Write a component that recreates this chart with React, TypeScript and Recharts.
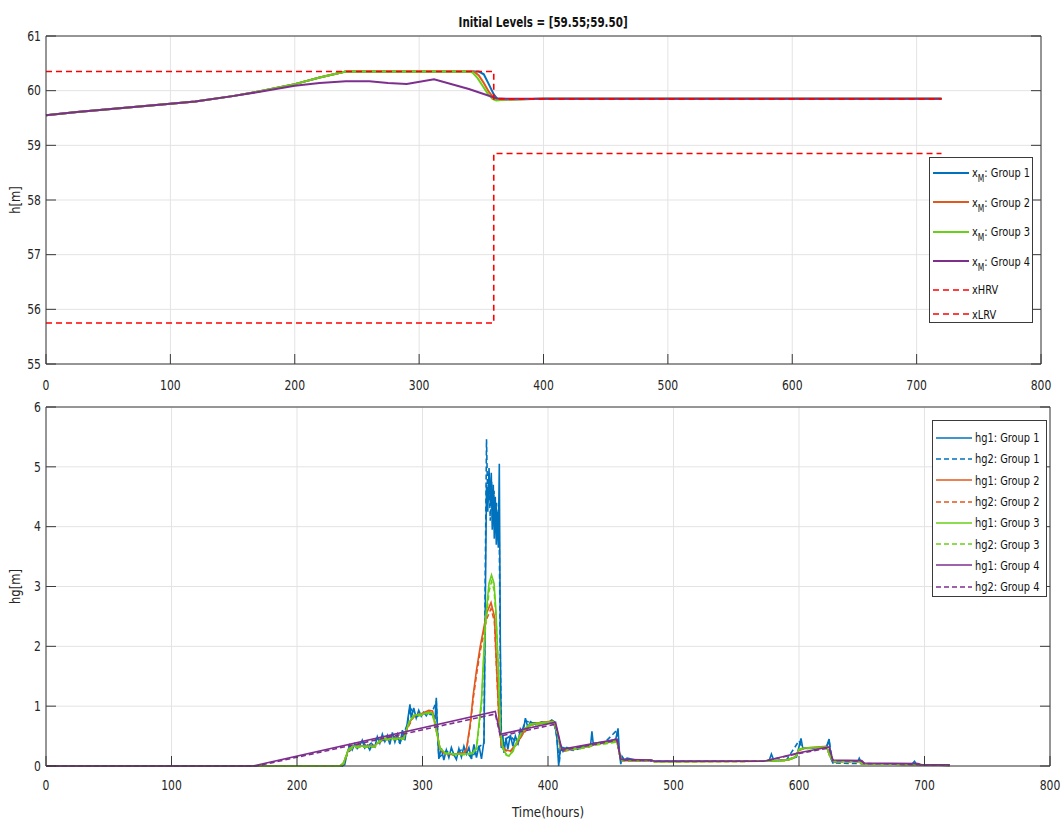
import { LineChart, Line, XAxis, YAxis, CartesianGrid, Legend } from "recharts"

type Pt = [number, number]

const FONT = "'Liberation Sans Narrow', 'Arial Narrow', 'DejaVu Sans Condensed', 'Liberation Sans', sans-serif"
const INK = "#262626"
const AXIS = "#3a3a3a"
const GRID = "#e3e3e3"
const TICK = 10
const NARROW = 0.86

const BLUE = "#0072BD"
const ORANGE = "#E2571C"
const GREEN = "#69CF17"
const PURPLE = "#7E2F8E"
const RED = "#FF0000"

// shared axis ticks
const timeTicks = [0, 100, 200, 300, 400, 500, 600, 700, 800]
const levelTicks = [55, 56, 57, 58, 59, 60, 61]
const gateTicks = [0, 1, 2, 3, 4, 5, 6]

// reservoir level h[m] per group, [hour, value]
const group1Level: Pt[] = [
  [0, 59.55], [25, 59.61], [50, 59.66], [75, 59.71], [100, 59.76], [120, 59.8], [150, 59.9], [172, 59.99],
  [200, 60.12], [220, 60.24], [241, 60.35], [340, 60.35], [348, 60.35], [352, 60.3], [356, 60.12],
  [360, 59.93], [363, 59.85], [370, 59.84], [400, 59.85], [720, 59.85],
]
const group2Level: Pt[] = [
  [0, 59.55], [25, 59.61], [50, 59.66], [75, 59.71], [100, 59.76], [120, 59.8], [150, 59.9], [172, 59.99],
  [200, 60.12], [220, 60.24], [241, 60.35], [340, 60.35], [344, 60.35], [348, 60.28], [352, 60.14],
  [356, 59.98], [360, 59.87], [363, 59.84], [370, 59.84], [400, 59.85], [720, 59.85],
]
const group3Level: Pt[] = [
  [0, 59.55], [25, 59.61], [50, 59.66], [75, 59.71], [100, 59.76], [120, 59.8], [150, 59.9], [172, 59.99],
  [200, 60.12], [220, 60.24], [241, 60.35], [340, 60.35], [343, 60.33], [347, 60.23], [351, 60.09],
  [355, 59.95], [359, 59.85], [362, 59.82], [370, 59.84], [400, 59.85], [720, 59.85],
]
const group4Level: Pt[] = [
  [0, 59.55], [25, 59.61], [50, 59.66], [75, 59.71], [100, 59.76], [120, 59.8], [150, 59.9], [172, 59.98],
  [200, 60.09], [220, 60.14], [241, 60.17], [260, 60.17], [275, 60.14], [290, 60.12], [312, 60.21],
  [340, 60.03], [362, 59.86], [370, 59.85], [400, 59.85], [720, 59.85],
]
const hrvLimit: Pt[] = [[0, 60.35], [360, 60.35], [360, 59.85], [720, 59.85]]
const lrvLimit: Pt[] = [[0, 55.75], [360, 55.75], [360, 58.85], [720, 58.85]]

// gate openings hg[m] per group, [hour, value]
const group1Hg1: Pt[] = [
  [0, 0], [236, 0], [238, 0.02], [240, 0.22], [242, 0.35], [244, 0.27], [246, 0.37], [248, 0.29], [250, 0.34],
  [252, 0.43], [254, 0.3], [256, 0.35], [258, 0.27], [260, 0.36], [262, 0.32], [264, 0.49], [266, 0.38],
  [268, 0.53], [270, 0.41], [272, 0.51], [274, 0.36], [276, 0.56], [278, 0.4], [280, 0.53], [282, 0.37],
  [284, 0.6], [286, 0.43], [288, 0.74], [290, 1.03], [291, 0.8], [293, 0.97], [295, 0.8], [297, 0.93],
  [299, 0.83], [301, 0.9], [303, 0.84], [305, 0.91], [307, 0.87], [309, 0.84], [310, 0.78], [311, 1.14],
  [312, 0.55], [313, 0.12], [315, 0.3], [317, 0.1], [319, 0.27], [321, 0.14], [323, 0.31], [325, 0.19],
  [327, 0.11], [329, 0.29], [331, 0.15], [333, 0.33], [335, 0.2], [337, 0.31], [339, 0.12], [341, 0.36],
  [343, 0.14], [345, 0.34], [347, 0.12], [349, 0.42], [350, 2.6], [351, 4.7], [352, 4.25], [353, 4.98],
  [354, 4.35], [354.8, 4.9], [355.6, 3.95], [356.4, 4.7], [357.2, 3.8], [358, 4.5], [358.8, 3.7],
  [359.6, 4.25], [360.4, 3.65], [361.2, 5.05], [362, 2.1], [362.8, 0.3], [364, 0.52], [365, 0.22],
  [366.5, 0.47], [368, 0.28], [370, 0.52], [372, 0.33], [374, 0.5], [376, 0.38], [378, 0.62], [380, 0.55],
  [382, 0.8], [384, 0.64], [386, 0.74], [390, 0.69], [395, 0.74], [400, 0.72], [403, 0.77], [405, 0.74],
  [407, 0.5], [408.5, 0], [410, 0.34], [412, 0.24], [415, 0.31], [420, 0.27], [425, 0.32], [430, 0.33],
  [434, 0.36], [435, 0.58], [436, 0.38], [445, 0.4], [450, 0.42], [454, 0.45], [455.8, 0.63], [457, 0.2],
  [458, 0.03], [459, 0.16], [461, 0.1], [463, 0.13], [470, 0.1], [482, 0.1], [485, 0.08], [560, 0.08],
  [576, 0.08], [578, 0.2], [580, 0.09], [590, 0.1], [598, 0.15], [601.6, 0.46], [603, 0.3], [620, 0.31],
  [622, 0.33], [624, 0.45], [625.5, 0.12], [627, 0.05], [630, 0.08], [647, 0.08], [648, 0.13], [650, 0.04],
  [690, 0.03], [692, 0.08], [694, 0.02], [720, 0.01],
]
const group1Hg2: Pt[] = [
  [0, 0], [236, 0], [240, 0.2], [244, 0.3], [252, 0.4], [256, 0.33], [264, 0.46], [270, 0.42], [276, 0.53],
  [282, 0.38], [288, 0.7], [290, 0.98], [295, 0.82], [301, 0.88], [307, 0.86], [311, 1.08], [313, 0.14],
  [319, 0.25], [325, 0.18], [333, 0.3], [339, 0.13], [345, 0.32], [349, 0.38], [350, 3.2], [351, 5.46],
  [352, 4.4], [353, 4.8], [354, 4.1], [355, 4.75], [356, 4.0], [357, 4.6], [358, 3.9], [359, 4.4],
  [360, 3.8], [361, 4.2], [362, 1.8], [363, 0.3], [366, 0.45], [370, 0.5], [376, 0.37], [382, 0.76],
  [386, 0.72], [395, 0.72], [405, 0.72], [407, 0.48], [409, 0.05], [410, 0.32], [420, 0.26], [434, 0.35],
  [445, 0.39], [455, 0.6], [457, 0.18], [459, 0.12], [470, 0.09], [485, 0.08], [576, 0.08], [590, 0.1],
  [600, 0.42], [603, 0.29], [622, 0.32], [624, 0.42], [627, 0.05], [650, 0.04], [720, 0.01],
]
const group2Hg1: Pt[] = [
  [0, 0], [234, 0], [237, 0.04], [241, 0.27], [245, 0.33], [262, 0.34], [266, 0.42], [270, 0.46], [285, 0.47],
  [289, 0.7], [293, 0.84], [300, 0.88], [305, 0.93], [308, 0.92], [311, 0.62], [314, 0.28], [318, 0.21],
  [325, 0.2], [333, 0.22], [335, 0.28], [338, 0.7], [340.5, 1.2], [343, 1.6], [346, 2.0], [351, 2.55],
  [354.6, 2.73], [357.3, 2.5], [359, 1.67], [361.2, 0.67], [363, 0.35], [366, 0.27], [370, 0.25],
  [374, 0.35], [380, 0.55], [386, 0.7], [395, 0.73], [404, 0.75], [407, 0.62], [410, 0.3], [413, 0.26],
  [425, 0.3], [433, 0.33], [436, 0.36], [445, 0.39], [455, 0.43], [457, 0.2], [459, 0.09], [470, 0.09],
  [482, 0.1], [485, 0.07], [575, 0.08], [590, 0.1], [597, 0.15], [600, 0.27], [604, 0.3], [622, 0.33],
  [625, 0.15], [628, 0.07], [648, 0.08], [650, 0.04], [700, 0.02], [720, 0.01],
]
const group2Hg2: Pt[] = [
  [0, 0], [234, 0], [237, 0.03], [241, 0.25], [245, 0.31], [262, 0.32], [266, 0.4], [270, 0.44], [285, 0.45],
  [289, 0.67], [293, 0.82], [300, 0.86], [305, 0.91], [308, 0.9], [311, 0.6], [314, 0.27], [318, 0.2],
  [325, 0.19], [333, 0.21], [335, 0.26], [338, 0.66], [340.5, 1.14], [343, 1.52], [346, 1.92], [351, 2.45],
  [354.6, 2.63], [357.3, 2.42], [359, 1.62], [361.2, 0.64], [363, 0.33], [366, 0.26], [370, 0.24],
  [374, 0.33], [380, 0.53], [386, 0.68], [395, 0.71], [404, 0.73], [407, 0.6], [410, 0.29], [413, 0.25],
  [425, 0.29], [433, 0.32], [436, 0.35], [445, 0.38], [455, 0.41], [457, 0.19], [459, 0.09], [470, 0.08],
  [482, 0.09], [485, 0.07], [575, 0.08], [590, 0.09], [597, 0.14], [600, 0.26], [604, 0.29], [622, 0.31],
  [625, 0.14], [628, 0.07], [648, 0.07], [650, 0.04], [700, 0.02], [720, 0.01],
]
const group3Hg1: Pt[] = [
  [0, 0], [234, 0], [237, 0.05], [241, 0.28], [245, 0.33], [262, 0.33], [266, 0.43], [270, 0.46], [285, 0.46],
  [289, 0.72], [293, 0.85], [300, 0.87], [305, 0.9], [308, 0.88], [311, 0.6], [314, 0.3], [318, 0.22],
  [325, 0.2], [335, 0.2], [340, 0.22], [343, 0.3], [347, 1.1], [350, 2.4], [353, 3.05], [355, 3.19],
  [357, 3.05], [358.5, 2.6], [360.5, 1.6], [362, 0.6], [364, 0.3], [367, 0.18], [369, 0.17], [372, 0.25],
  [376, 0.45], [380, 0.6], [386, 0.7], [395, 0.72], [404, 0.74], [407, 0.6], [410, 0.3], [413, 0.27],
  [425, 0.3], [433, 0.33], [436, 0.36], [445, 0.38], [455, 0.42], [457, 0.2], [459, 0.1], [470, 0.09],
  [482, 0.1], [485, 0.07], [575, 0.08], [590, 0.1], [597, 0.15], [600, 0.28], [604, 0.3], [622, 0.32],
  [625, 0.15], [628, 0.07], [648, 0.08], [650, 0.04], [700, 0.02], [720, 0.01],
]
const group3Hg2: Pt[] = [
  [0, 0], [234, 0], [237, 0.04], [241, 0.26], [245, 0.31], [262, 0.32], [266, 0.41], [270, 0.44], [285, 0.45],
  [289, 0.7], [293, 0.83], [300, 0.85], [305, 0.88], [308, 0.86], [311, 0.58], [314, 0.29], [318, 0.21],
  [325, 0.19], [335, 0.19], [340, 0.21], [343, 0.28], [347, 1.02], [350, 2.28], [353, 2.92], [355, 3.08],
  [357, 2.95], [358.5, 2.52], [360.5, 1.55], [362, 0.58], [364, 0.29], [367, 0.18], [369, 0.17], [372, 0.24],
  [376, 0.43], [380, 0.58], [386, 0.68], [395, 0.7], [404, 0.72], [407, 0.58], [410, 0.29], [413, 0.26],
  [425, 0.29], [433, 0.32], [436, 0.35], [445, 0.37], [455, 0.4], [457, 0.19], [459, 0.09], [470, 0.09],
  [482, 0.09], [485, 0.07], [575, 0.08], [590, 0.09], [597, 0.14], [600, 0.27], [604, 0.29], [622, 0.31],
  [625, 0.14], [628, 0.07], [648, 0.07], [650, 0.04], [700, 0.02], [720, 0.01],
]
const group4Hg1: Pt[] = [
  [0, 0], [165, 0], [358, 0.91], [362, 0.53], [406, 0.73], [411, 0.28], [455, 0.45], [458, 0.11],
  [482, 0.1], [485, 0.08], [572, 0.08], [600, 0.22], [624, 0.32], [627, 0.1], [650, 0.09], [652, 0.05],
  [695, 0.04], [697, 0.02], [720, 0.02],
]
const group4Hg2: Pt[] = [
  [0, 0], [168, 0], [358, 0.87], [362, 0.5], [406, 0.7], [411, 0.26], [455, 0.43], [458, 0.1],
  [482, 0.09], [485, 0.08], [572, 0.08], [600, 0.21], [624, 0.3], [627, 0.09], [650, 0.08], [652, 0.04],
  [695, 0.03], [697, 0.02], [720, 0.02],
]

const toRows = (pts: Pt[]) => pts.map(([t, v]) => ({ t, v }))

type Series = { name: string; sub?: boolean; pts: Pt[]; color: string; dash?: string; width: number }

const levelSeries: Series[] = [
  { name: ": Group 1", sub: true, pts: group1Level, color: BLUE, width: 2 },
  { name: ": Group 2", sub: true, pts: group2Level, color: ORANGE, width: 2 },
  { name: ": Group 3", sub: true, pts: group3Level, color: GREEN, width: 2 },
  { name: ": Group 4", sub: true, pts: group4Level, color: PURPLE, width: 2 },
  { name: "xHRV", pts: hrvLimit, color: RED, dash: "6 4", width: 1.6 },
  { name: "xLRV", pts: lrvLimit, color: RED, dash: "6 4", width: 1.6 },
]

const gateSeries: Series[] = [
  { name: "hg1: Group 1", pts: group1Hg1, color: BLUE, width: 1.6 },
  { name: "hg2: Group 1", pts: group1Hg2, color: BLUE, dash: "5 3", width: 1.6 },
  { name: "hg1: Group 2", pts: group2Hg1, color: ORANGE, width: 1.6 },
  { name: "hg2: Group 2", pts: group2Hg2, color: ORANGE, dash: "5 3", width: 1.6 },
  { name: "hg1: Group 3", pts: group3Hg1, color: GREEN, width: 1.6 },
  { name: "hg2: Group 3", pts: group3Hg2, color: GREEN, dash: "5 3", width: 1.6 },
  { name: "hg1: Group 4", pts: group4Hg1, color: PURPLE, width: 1.6 },
  { name: "hg2: Group 4", pts: group4Hg2, color: PURPLE, dash: "5 3", width: 1.6 },
]

const txt = { fontFamily: FONT, fontSize: 14, fill: INK }

// condensed text drawn at (x, y)
const Narrow = ({ x, y, anchor, children, ...rest }: any) => (
  <text
    transform={`translate(${x} ${y}) scale(${NARROW} 1)`}
    textAnchor={anchor}
    dominantBaseline="central"
    {...txt}
    {...rest}
  >
    {children}
  </text>
)

// inward tick marks plus labels, box style axes
const bottomTick = (gap: number) => (p: any) => (
  <g>
    <line x1={p.x} y1={p.y} x2={p.x} y2={p.y - TICK} stroke={AXIS} />
    <Narrow x={p.x} y={p.y + gap} anchor="middle">{p.payload.value}</Narrow>
  </g>
)
const topTick = (p: any) => <line x1={p.x} y1={p.y} x2={p.x} y2={p.y + TICK} stroke={AXIS} />
const leftTick = (p: any) => (
  <g>
    <line x1={p.x} y1={p.y} x2={p.x + TICK} y2={p.y} stroke={AXIS} />
    <Narrow x={p.x - 5} y={p.y} anchor="end">{p.payload.value}</Narrow>
  </g>
)
const rightTick = (p: any) => <line x1={p.x} y1={p.y} x2={p.x - TICK} y2={p.y} stroke={AXIS} />

const yTitle = (value: string) => (props: any) => {
  const vb = props.viewBox
  const cy = vb.y + vb.height / 2
  return (
    <text
      transform={`translate(15 ${cy}) rotate(-90) scale(0.92 1)`}
      textAnchor="middle"
      dominantBaseline="central"
      {...txt}
    >
      {value}
    </text>
  )
}

function LegendBox({ items, heights, padTop }: { items: Series[]; heights: number[]; padTop: number }) {
  return (
    <div
      style={{
        boxSizing: "border-box",
        width: "100%",
        height: "100%",
        border: `1px solid ${AXIS}`,
        background: "#fff",
        paddingTop: padTop,
        fontFamily: FONT,
        fontSize: 13,
        color: "#111",
      }}
    >
      {items.map((s, i) => (
        <div key={s.name + i} style={{ display: "flex", alignItems: "center", height: heights[i], whiteSpace: "nowrap" }}>
          <svg width={36} height={6} style={{ marginLeft: 3, marginRight: 3, flex: "none" }}>
            <line x1={0} y1={3} x2={36} y2={3} stroke={s.color} strokeWidth={s.width} strokeDasharray={s.dash} />
          </svg>
          <span style={{ display: "inline-block", transform: "scaleX(0.84)", transformOrigin: "left center" }}>
            {s.sub ? (
              <>
                x<span style={{ fontSize: 10, position: "relative", top: 5 }}>M</span>
                {s.name}
              </>
            ) : (
              s.name
            )}
          </span>
        </div>
      ))}
    </div>
  )
}

// top and right axes only draw the box edge and inward ticks
const boxAxes = (domain: [number, number], ticks: number[]) => [
  <XAxis
    key="top"
    xAxisId="top"
    orientation="top"
    type="number"
    domain={[0, 800]}
    allowDataOverflow
    ticks={timeTicks}
    interval={0}
    height={1}
    tickSize={0}
    tickMargin={0}
    tickLine={false}
    axisLine={{ stroke: AXIS }}
    tick={topTick}
  />,
  <YAxis
    key="right"
    yAxisId="r"
    orientation="right"
    type="number"
    domain={domain}
    allowDataOverflow
    ticks={ticks}
    interval={0}
    width={1}
    tickSize={0}
    tickMargin={0}
    tickLine={false}
    axisLine={{ stroke: AXIS }}
    tick={rightTick}
  />,
]

function LevelPanel() {
  return (
    <LineChart width={1063} height={395} margin={{ top: 35, right: 21, bottom: 0, left: 0 }}>
      <CartesianGrid stroke={GRID} />
      <XAxis
        dataKey="t"
        type="number"
        domain={[0, 800]}
        ticks={timeTicks}
        interval={0}
        height={31}
        tickSize={0}
        tickMargin={0}
        tickLine={false}
        axisLine={{ stroke: AXIS }}
        tick={bottomTick(21)}
      />
      <YAxis
        type="number"
        domain={[55, 61]}
        ticks={levelTicks}
        interval={0}
        width={46}
        tickSize={0}
        tickMargin={0}
        tickLine={false}
        axisLine={{ stroke: AXIS }}
        tick={leftTick}
        label={yTitle("h[m]")}
      />
      {boxAxes([55, 61], levelTicks)}
      {levelSeries.map((s, i) => (
        <Line
          key={i}
          data={toRows(s.pts)}
          dataKey="v"
          name={s.name}
          type="linear"
          stroke={s.color}
          strokeWidth={s.width}
          strokeDasharray={s.dash}
          dot={false}
          activeDot={false}
          isAnimationActive={false}
        />
      ))}
      <Legend
        layout="horizontal"
        align="center"
        verticalAlign="middle"
        wrapperStyle={{ left: 929, top: 157, width: 104, height: 166 }}
        content={() => <LegendBox items={levelSeries} heights={[29.5, 29.5, 29.5, 29.5, 27, 22]} padTop={0} />}
      />
    </LineChart>
  )
}

function GatePanel() {
  return (
    <LineChart width={1063} height={428} margin={{ top: 11, right: 12, bottom: 0, left: 0 }}>
      <CartesianGrid stroke={GRID} />
      <XAxis
        dataKey="t"
        type="number"
        domain={[0, 800]}
        ticks={timeTicks}
        interval={0}
        height={57}
        tickSize={0}
        tickMargin={0}
        tickLine={false}
        axisLine={{ stroke: AXIS }}
        tick={bottomTick(19)}
        label={(props: any) => {
          const vb = props.viewBox
          return (
            <Narrow x={vb.x + vb.width / 2} y={vb.y + 46} anchor="middle" transform={`translate(${vb.x + vb.width / 2} ${vb.y + 46}) scale(0.95 1)`}>
              Time(hours)
            </Narrow>
          )
        }}
      />
      <YAxis
        type="number"
        domain={[0, 6]}
        ticks={gateTicks}
        interval={0}
        width={46}
        tickSize={0}
        tickMargin={0}
        tickLine={false}
        axisLine={{ stroke: AXIS }}
        tick={leftTick}
        label={yTitle("hg[m]")}
      />
      {boxAxes([0, 6], gateTicks)}
      {gateSeries.map((s, i) => (
        <Line
          key={i}
          data={toRows(s.pts)}
          dataKey="v"
          name={s.name}
          type="linear"
          stroke={s.color}
          strokeWidth={s.width}
          strokeDasharray={s.dash}
          dot={false}
          activeDot={false}
          isAnimationActive={false}
        />
      ))}
      <Legend
        layout="horizontal"
        align="center"
        verticalAlign="middle"
        wrapperStyle={{ left: 932, top: 25, width: 115, height: 177 }}
        content={() => <LegendBox items={gateSeries} heights={gateSeries.map(() => 21.3)} padTop={6} />}
      />
    </LineChart>
  )
}

export default function App() {
  return (
    <div style={{ position: "absolute", left: 0, top: 0, width: 1063, height: 823, background: "#fff" }}>
      <div style={{ position: "absolute", left: 0, top: 0 }}>
        <LevelPanel />
      </div>
      <div style={{ position: "absolute", left: 0, top: 395 }}>
        <GatePanel />
      </div>
      <div
        style={{
          position: "absolute",
          left: 46,
          top: 12,
          width: 995,
          textAlign: "center",
          fontFamily: FONT,
          fontSize: 14,
          fontWeight: "bold",
          color: "#111",
          lineHeight: "20px",
        }}
      >
        <span style={{ display: "inline-block", transform: "scaleX(0.82)" }}>Initial Levels = [59.55;59.50]</span>
      </div>
    </div>
  )
}
